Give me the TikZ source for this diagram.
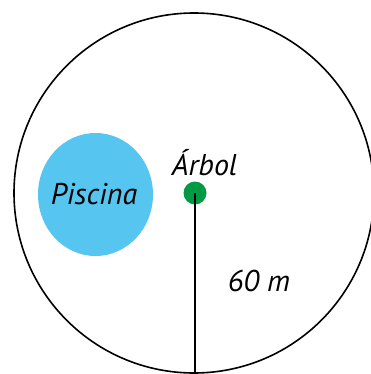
\documentclass[tikz,border=0pt]{standalone}
\usepackage{fontspec}
\setmainfont{PT Sans}
\usetikzlibrary{shapes.geometric}
\definecolor{pool}{HTML}{56C5F0}
\definecolor{treegreen}{HTML}{009A44}
\tikzset{
  lbl/.style={font=\fontsize{30}{32}\selectfont\itshape, inner sep=0pt},
  outline/.style={draw=black, line width=1.6pt, circle, minimum size=360pt, inner sep=0pt},
}
\begin{document}
\begin{tikzpicture}[x=1pt,y=-1pt]
\useasboundingbox (0,0) rectangle (371,374);
\node[outline] (big) at (194,193) {};
\node[ellipse, fill=pool, minimum width=115pt, minimum height=123pt, inner sep=0pt] (pool) at (95.5,194.5) {};
\node[lbl] (piscina) at (94,194) {Piscina};
\node[circle, fill=treegreen, minimum size=23pt, inner sep=0pt] (tree) at (195,193) {};
\draw[line width=2pt] (tree.center) -- (tree.center |- big.south);
\node[lbl, anchor=base] (arbol) at (204.5,175) {Árbol};
\node[lbl, anchor=base] (dist) at (259,291) {60 m};
\end{tikzpicture}
\end{document}
